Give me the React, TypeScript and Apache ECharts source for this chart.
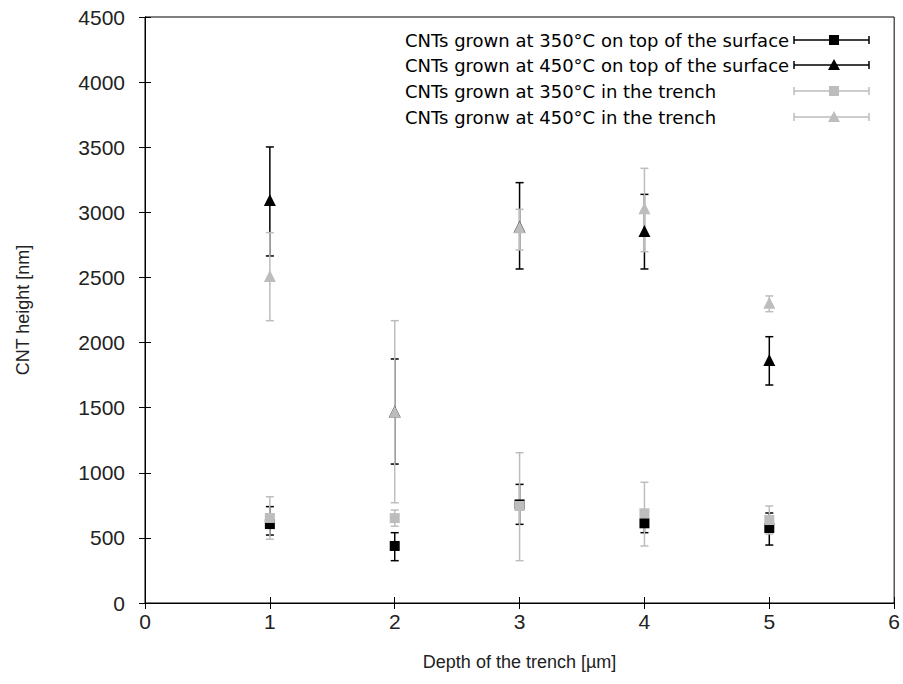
import React, { useEffect, useRef } from "react";
import * as echarts from "echarts";

const depths = [1, 2, 3, 4, 5];

const seriesNames = [
  "CNTs grown at 350°C on top of the surface",
  "CNTs grown at 450°C on top of the surface",
  "CNTs grown at 350°C in the trench",
  "CNTs gronw at 450°C in the trench",
];

const top350Mean = [606, 438, 757, 612, 576];
const top350Low = [522, 325, 604, 540, 445];
const top350High = [740, 540, 911, 690, 691];

const top450Mean = [3094, 1470, 2890, 2857, 1866];
const top450Low = [2665, 1067, 2565, 2565, 1674];
const top450High = [3502, 1874, 3228, 3138, 2045];

const trench350Mean = [653, 652, 745, 689, 637];
const trench350Low = [490, 590, 325, 438, 530];
const trench350High = [816, 714, 1154, 927, 745];

const trench450Mean = [2511, 1469, 2885, 3031, 2306];
const trench450Low = [2168, 770, 2711, 2698, 2237];
const trench450High = [2844, 2168, 3023, 3338, 2358];

const yTicks = [0, 500, 1000, 1500, 2000, 2500, 3000, 3500, 4000, 4500];
const xTicks = [0, 1, 2, 3, 4, 5, 6];

const BLACK = "#000000";
const GRAY = "#bdbdbd";

const groups = [
  { name: seriesNames[0], mean: top350Mean, low: top350Low, high: top350High, color: BLACK, symbol: "rect", size: 10 },
  { name: seriesNames[1], mean: top450Mean, low: top450Low, high: top450High, color: BLACK, symbol: "triangle", size: 12 },
  { name: seriesNames[2], mean: trench350Mean, low: trench350Low, high: trench350High, color: GRAY, symbol: "rect", size: 10 },
  { name: seriesNames[3], mean: trench450Mean, low: trench450Low, high: trench450High, color: GRAY, symbol: "triangle", size: 12 },
];

export default function App() {
  const ref = useRef<HTMLDivElement>(null);
  useEffect(() => {
    if (!ref.current) return;
    const chart = echarts.init(ref.current, null, { renderer: "svg" });
    const series: any[] = [];
    groups.forEach((g) => {
      series.push({
        type: "custom",
        name: g.name,
        data: depths.map((d, i) => [d, g.low[i], g.high[i]]),
        encode: { x: 0, y: [1, 2] },
        renderItem: (params: any, api: any) => {
          const x = api.value(0);
          const pLo = api.coord([x, api.value(1)]);
          const pHi = api.coord([x, api.value(2)]);
          const cap = 4;
          const st = { stroke: g.color, lineWidth: 1.5 };
          return {
            type: "group",
            children: [
              { type: "line", shape: { x1: pLo[0], y1: pLo[1], x2: pHi[0], y2: pHi[1] }, style: st },
              { type: "line", shape: { x1: pLo[0] - cap, y1: pLo[1], x2: pLo[0] + cap, y2: pLo[1] }, style: st },
              { type: "line", shape: { x1: pHi[0] - cap, y1: pHi[1], x2: pHi[0] + cap, y2: pHi[1] }, style: st },
            ],
          };
        },
      });
      series.push({
        type: "scatter",
        name: g.name,
        data: depths.map((d, i) => [d, g.mean[i]]),
        symbol: g.symbol,
        symbolSize: g.size,
        itemStyle: { color: g.color, opacity: 1 },
      });
    });

    const legendX = 405;
    const lineX1 = 794;
    const lineX2 = 869;
    const markX = 834;
    const rowY = [40, 65, 91, 117];
    const legendGraphics: any[] = [];
    groups.forEach((g, i) => {
      const y = rowY[i];
      legendGraphics.push({
        type: "text",
        x: legendX,
        y,
        style: {
          text: g.name,
          font: "18px 'DejaVu Sans'",
          fill: "#000",
          verticalAlign: "middle",
          align: "left",
        },
      });
      const st = { stroke: g.color, lineWidth: 1.5 };
      legendGraphics.push({ type: "line", shape: { x1: lineX1, y1: y, x2: lineX2, y2: y }, style: st });
      legendGraphics.push({ type: "line", shape: { x1: lineX1, y1: y - 4, x2: lineX1, y2: y + 4 }, style: st });
      legendGraphics.push({ type: "line", shape: { x1: lineX2, y1: y - 4, x2: lineX2, y2: y + 4 }, style: st });
      if (g.symbol === "rect") {
        legendGraphics.push({ type: "rect", shape: { x: markX - 5, y: y - 5, width: 10, height: 10 }, style: { fill: g.color } });
      } else {
        legendGraphics.push({
          type: "polygon",
          shape: { points: [[markX, y - 6], [markX + 6, y + 5], [markX - 6, y + 5]] },
          style: { fill: g.color },
        });
      }
    });

    const font = "'Liberation Sans', Arial, sans-serif";
    const tickStyle = { color: "#222", fontSize: 21, fontFamily: font, formatter: (v: number) => String(v) };
    const titleStyle = { color: "#222", fontSize: 18, fontFamily: font };
    chart.setOption({
      animation: false,
      backgroundColor: "#ffffff",
      grid: { left: 145, right: 6, top: 17, bottom: 81, show: true, borderColor: "#000", borderWidth: 1, backgroundColor: "transparent" },
      xAxis: [
        {
          type: "value",
          min: xTicks[0],
          max: xTicks[xTicks.length - 1],
          interval: 1,
          position: "bottom",
          name: "Depth of the trench [µm]",
          nameLocation: "middle",
          nameGap: 50,
          nameTextStyle: titleStyle,
          axisLine: { show: true, lineStyle: { color: "#000", width: 1 } },
          axisTick: { show: true, inside: true, length: 6, lineStyle: { color: "#000" } },
          axisLabel: { ...tickStyle, margin: 8 },
          splitLine: { show: false },
        },
        {
          type: "value",
          min: xTicks[0],
          max: xTicks[xTicks.length - 1],
          interval: 1,
          position: "top",
          axisLine: { show: true, lineStyle: { color: "#000", width: 1 } },
          axisTick: { show: true, inside: true, length: 6, lineStyle: { color: "#000" } },
          axisLabel: { show: false },
          splitLine: { show: false },
        },
      ],
      yAxis: [
        {
          type: "value",
          min: yTicks[0],
          max: yTicks[yTicks.length - 1],
          interval: 500,
          position: "left",
          name: "CNT height [nm]",
          nameLocation: "middle",
          nameGap: 113,
          nameTextStyle: titleStyle,
          axisLine: { show: true, lineStyle: { color: "#000", width: 1 } },
          axisTick: { show: true, inside: true, length: 6, lineStyle: { color: "#000" } },
          axisLabel: { ...tickStyle, margin: 20 },
          splitLine: { show: false },
        },
        {
          type: "value",
          min: yTicks[0],
          max: yTicks[yTicks.length - 1],
          interval: 500,
          position: "right",
          axisLine: { show: true, lineStyle: { color: "#000", width: 1 } },
          axisTick: { show: true, inside: true, length: 6, lineStyle: { color: "#000" } },
          axisLabel: { show: false },
          splitLine: { show: false },
        },
      ],
      series,
      graphic: legendGraphics,
    });
    return () => chart.dispose();
  }, []);
  return <div ref={ref} style={{ width: 903, height: 684, position: "fixed", left: 0, top: 0 }} />;
}
